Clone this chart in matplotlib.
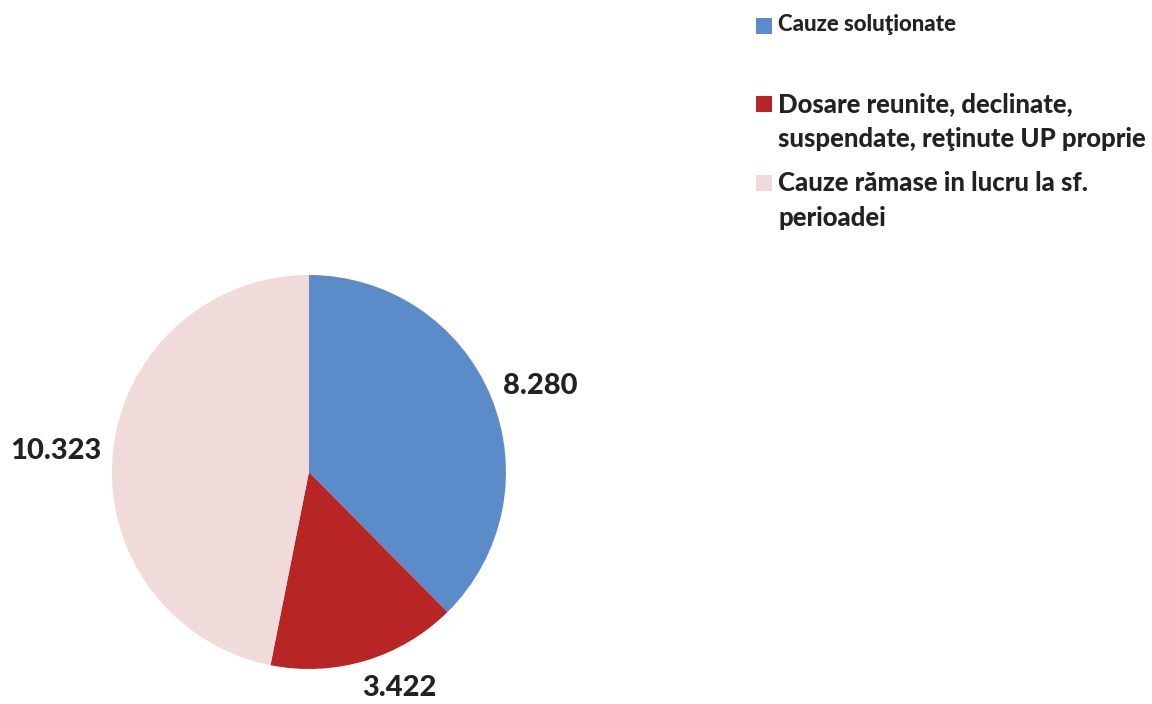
import matplotlib.pyplot as plt
import numpy as np
from matplotlib.patches import Rectangle

plt.rcParams['font.family'] = ['Lato', 'DejaVu Sans']

categorii = ['Cauze soluţionate',
             'Dosare reunite, declinate,\nsuspendate, reţinute UP proprie',
             'Cauze rămase in lucru la sf.\nperioadei']
valori = [8280, 3422, 10323]
etichete = ['8.280', '3.422', '10.323']
culori = ['#5B8BC9', '#B82525', '#F0DBDA']

fig = plt.figure(figsize=(11.52, 7.04), dpi=100)
ax = fig.add_axes([0.0972, 0.0497, 0.342, 0.5597])

wedges, _ = ax.pie(valori, colors=culori, startangle=90, counterclock=False,
                   wedgeprops=dict(linewidth=0))
ax.set_aspect('equal')
ax.set_xlim(-1, 1)
ax.set_ylim(-1, 1)

# etichete de valori in afara feliilor
dist = [1.25, 1.19, 1.29]
deplasare = [-2, 6, 1]
for w, et, d, dd in zip(wedges, etichete, dist, deplasare):
    ang = np.deg2rad((w.theta1 + w.theta2) / 2 + dd)
    ax.text(d * np.cos(ang), d * np.sin(ang), et, ha='center', va='center',
            fontsize=21, fontweight='black', color='#222222', clip_on=False)

# legenda
leg_y = [26, 104, 183]
leg_fs = [16, 18.5, 18.5]
for cat, c, y, fs in zip(categorii, culori, leg_y, leg_fs):
    fig.patches.append(Rectangle((756 / 1152, 1 - (y + 8) / 704), 16 / 1152, 16 / 704,
                                 transform=fig.transFigure, facecolor=c, edgecolor='none'))
    fig.text(778 / 1152, 1 - (y - 12) / 704, cat, ha='left', va='top', fontsize=fs,
             fontweight='black', color='#222222', linespacing=1.55)

fig.savefig('out.png', dpi=100)
